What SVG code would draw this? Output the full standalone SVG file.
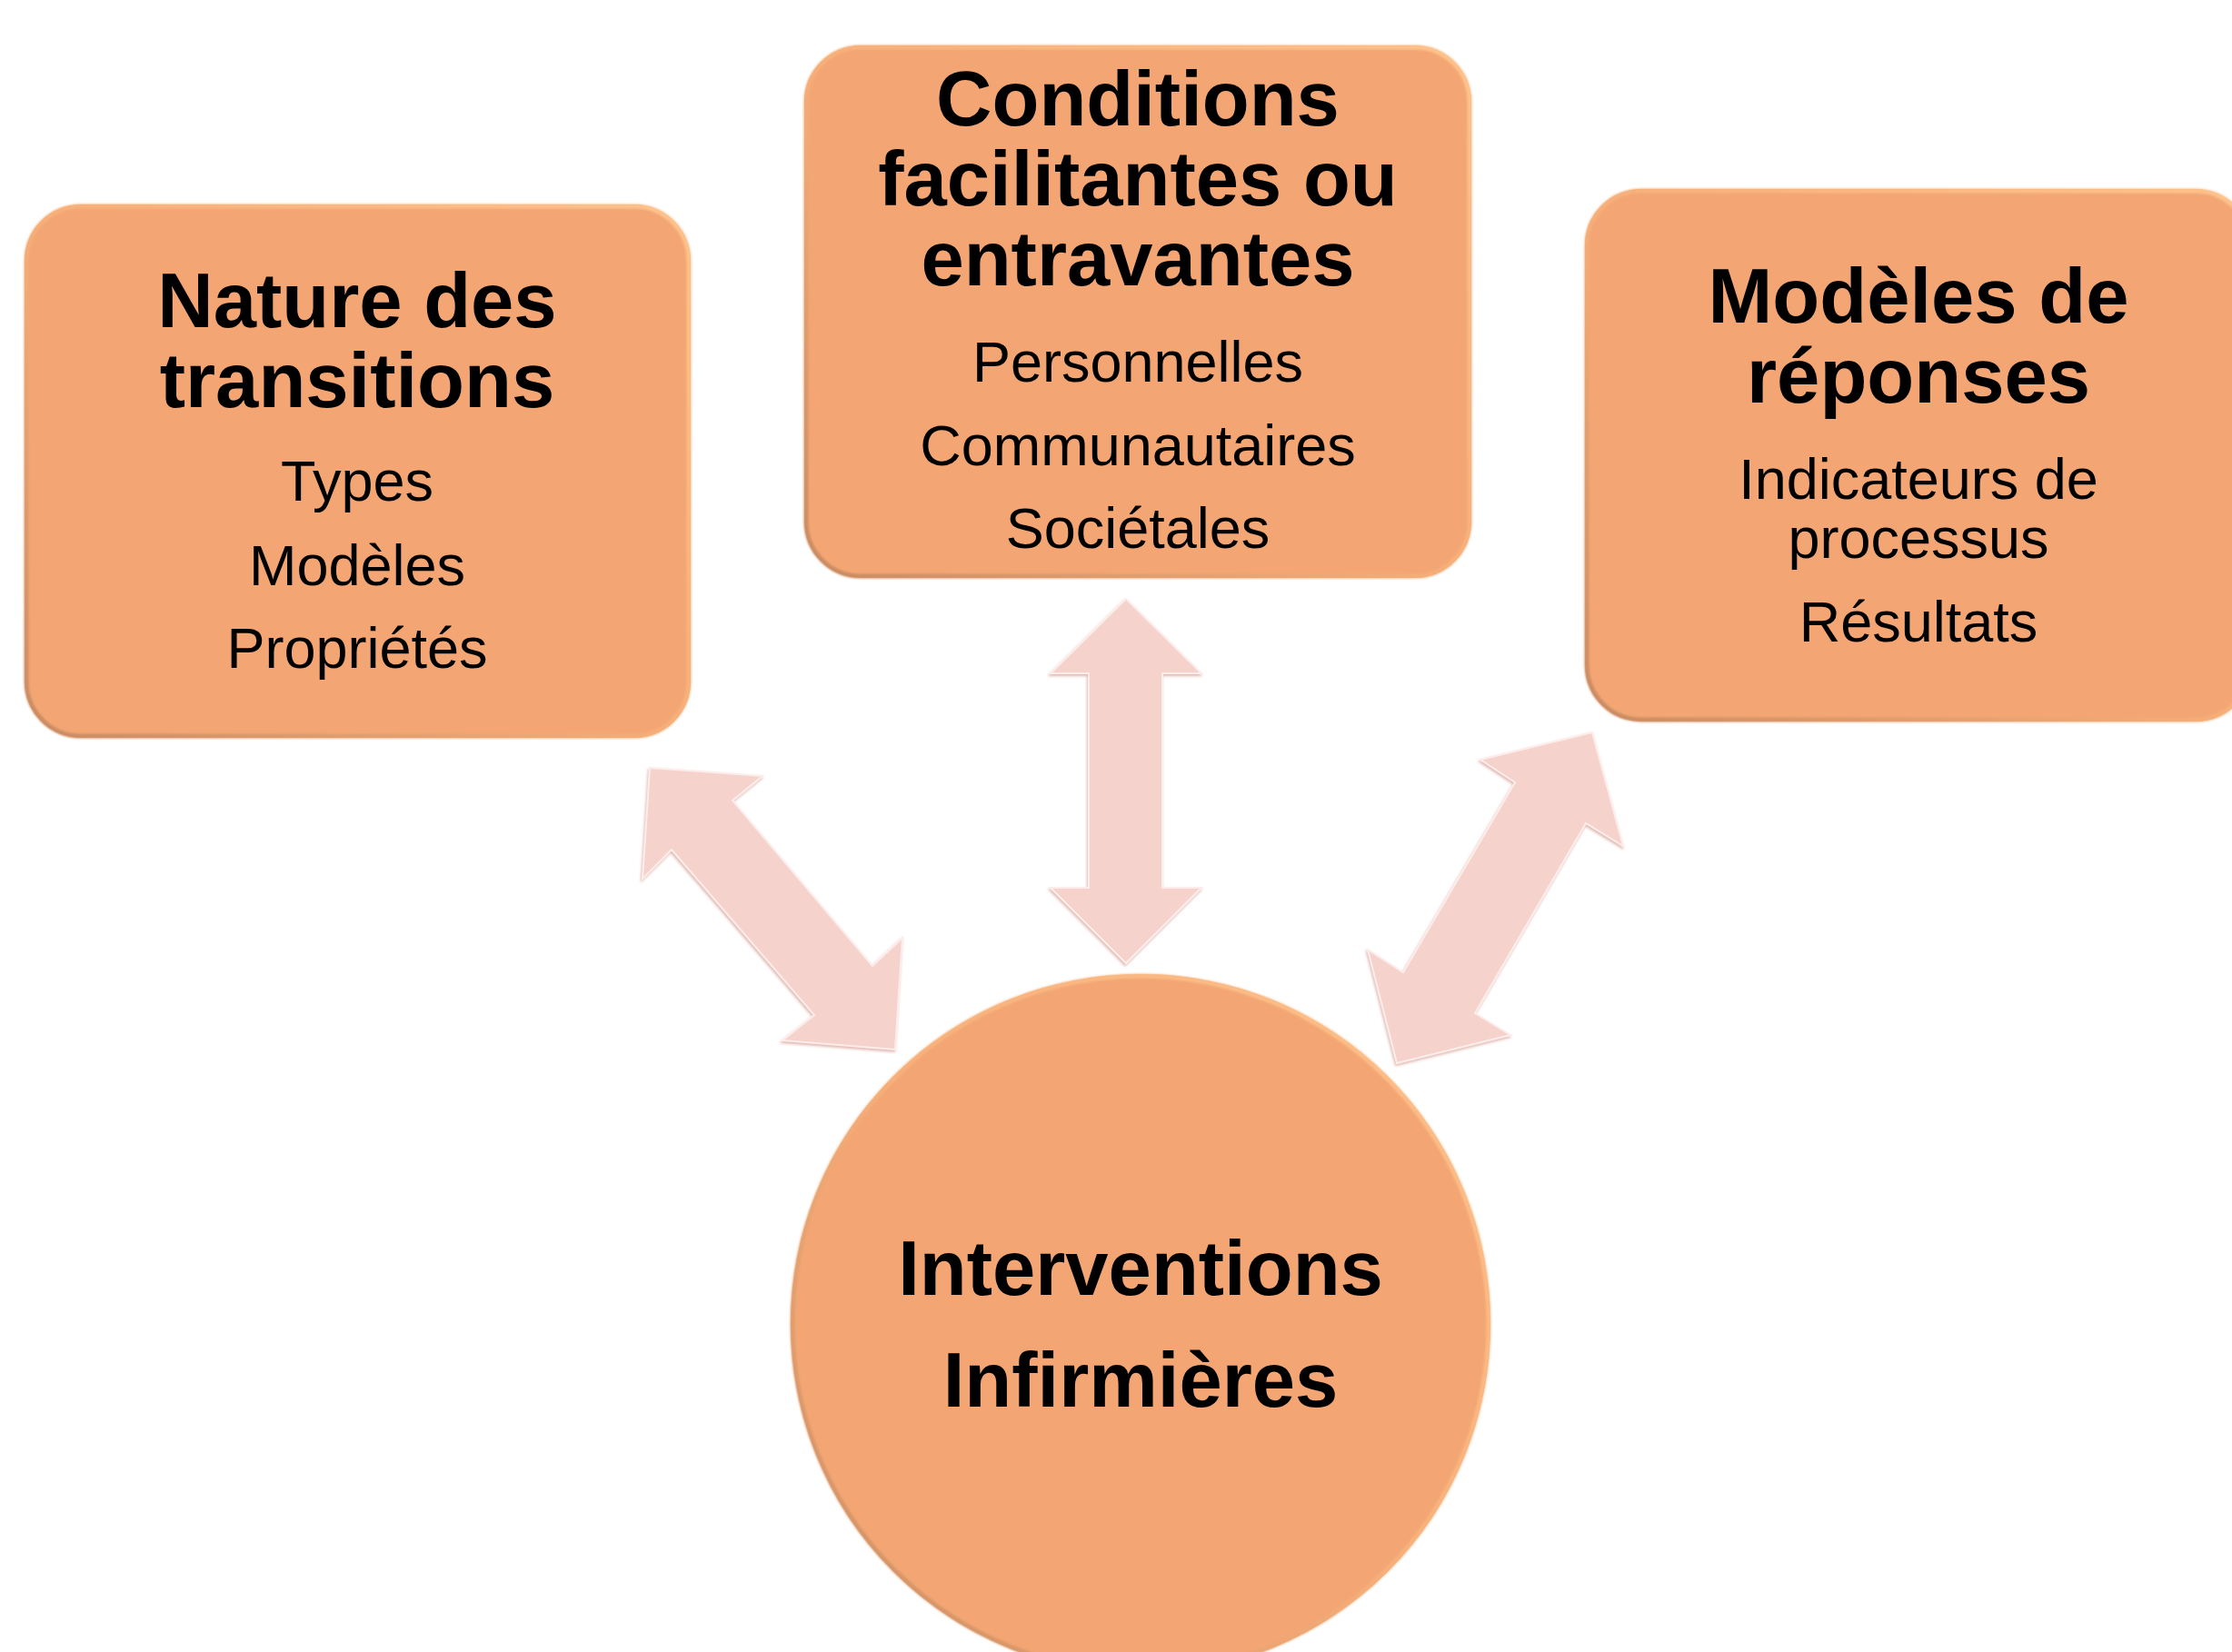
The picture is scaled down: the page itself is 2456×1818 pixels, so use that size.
<svg xmlns="http://www.w3.org/2000/svg" width="2456" height="1818" viewBox="0 0 2456 1818">
<defs>
<linearGradient id="rim" x1="1" y1="0" x2="0" y2="1">
<stop offset="0" stop-color="#FFC48E"/>
<stop offset="0.5" stop-color="#F7B07A"/>
<stop offset="1" stop-color="#C88A62"/>
</linearGradient>
<filter id="soft" x="-5%" y="-5%" width="110%" height="110%">
<feGaussianBlur stdDeviation="1.2"/>
</filter>
<filter id="ashadow" x="-10%" y="-10%" width="120%" height="120%">
<feGaussianBlur in="SourceAlpha" stdDeviation="1.5" result="b"/>
<feOffset dx="-1.5" dy="1.5" result="o"/>
<feFlood flood-color="#D9A59C" flood-opacity="0.8"/>
<feComposite in2="o" operator="in" result="s"/>
<feMerge><feMergeNode in="s"/><feMergeNode in="SourceGraphic"/></feMerge>
</filter>
</defs>
<style>
.node{fill:#F3A673;}
.rim{fill:none;stroke:url(#rim);stroke-width:5;filter:url(#soft);}
.t{font-family:"Liberation Sans",Arial,sans-serif;font-weight:bold;font-size:85px;fill:#000;text-anchor:middle;}
.s{font-family:"Liberation Sans",Arial,sans-serif;font-size:63px;fill:#000;text-anchor:middle;}
.arrow{fill:#F5D3CC;stroke:#FCEDEA;stroke-width:2;stroke-linejoin:miter;filter:url(#ashadow);}
</style>
<rect width="2456" height="1818" fill="#FFFFFF"/>
<g id="connectors">
<polygon class="arrow" points="715,845 839,854 806,881 960,1063 993,1032 985,1155 861,1145 896,1117 739,935 707,967"/>
<polygon class="arrow" points="1239,659 1322,741 1279,741 1279,977 1322,977 1239,1060 1156,977 1198,977 1198,741 1156,741"/>
<polygon class="arrow" points="1752,806 1786,931 1745,906 1623,1115 1662,1139 1537,1170 1505,1045 1544,1070 1667,861 1629,836"/>
</g>
<g id="node-nature">
<rect class="node" x="27" y="225" width="733" height="587" rx="62"/>
<rect class="rim" x="29" y="227" width="729" height="583" rx="60"/>
<text class="t" x="393" y="360">Nature des</text>
<text class="t" x="393" y="448">transitions</text>
<text class="s" x="393" y="551">Types</text>
<text class="s" x="393" y="644">Modèles</text>
<text class="s" x="393" y="735">Propriétés</text>
</g>
<g id="node-conditions">
<rect class="node" x="885" y="50" width="734" height="586" rx="62"/>
<rect class="rim" x="887" y="52" width="730" height="582" rx="60"/>
<text class="t" x="1252" y="138">Conditions</text>
<text class="t" x="1252" y="226">facilitantes ou</text>
<text class="t" x="1252" y="314">entravantes</text>
<text class="s" x="1252" y="420">Personnelles</text>
<text class="s" x="1252" y="512">Communautaires</text>
<text class="s" x="1252" y="603">Sociétales</text>
</g>
<g id="node-modeles">
<rect class="node" x="1744" y="208" width="734" height="586" rx="62"/>
<rect class="rim" x="1746" y="210" width="730" height="582" rx="60"/>
<text class="t" x="2111" y="355">Modèles de</text>
<text class="t" x="2111" y="443">réponses</text>
<text class="s" x="2111" y="549">Indicateurs de</text>
<text class="s" x="2111" y="614">processus</text>
<text class="s" x="2111" y="706">Résultats</text>
</g>
<g id="node-interventions">
<circle class="node" cx="1255" cy="1457" r="385"/>
<circle class="rim" cx="1255" cy="1457" r="383"/>
<text class="t" x="1255" y="1425">Interventions</text>
<text class="t" x="1255" y="1548">Infirmières</text>
</g>
</svg>
